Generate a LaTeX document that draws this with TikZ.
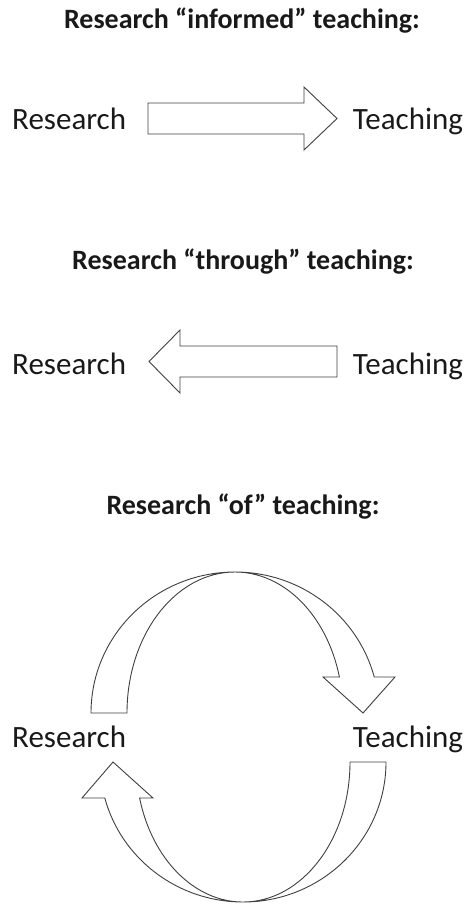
\documentclass[tikz,border=0pt]{standalone}
\usepackage{fontspec}
\setmainfont{Carlito}
\begin{document}
\begin{tikzpicture}[x=1pt,y=-1pt,
  title/.style={font=\fontsize{28}{32}\selectfont\bfseries, anchor=base, inner sep=0pt, text=black!90},
  lbl/.style={font=\fontsize{31}{37}\selectfont, anchor=base west, inner sep=0pt, text=black!90},
  lblr/.style={lbl, anchor=base},
  blockarrow/.style={draw=black!75, line width=0.9pt, fill=white, line join=miter}]
\useasboundingbox (0,0) rectangle (472,904);
% titles
\node[title] (t1) at (242,29) {Research “informed” teaching:};
\node[title] (t2) at (243,269) {Research “through” teaching:};
\node[title] (t3) at (243,514) {Research “of” teaching:};
% row labels
\node[lbl] (r1) at (12,130) {Research};
\node[lblr] (e1) at (408,130) {Teaching};
\node[lbl] (r2) at (12,374) {Research};
\node[lblr] (e2) at (408,374) {Teaching};
\node[lbl] (r3) at (12,747) {Research};
\node[lblr] (e3) at (408,747) {Teaching};
% straight arrows
\draw[blockarrow] (148,103) -- (304,103) -- (304,87) -- (337,118.5) -- (304,150) -- (304,134) -- (148,134) -- cycle;
\draw[blockarrow] (337,346) -- (180,346) -- (180,330) -- (149,361.5) -- (180,393) -- (180,377) -- (337,377) -- cycle;
% curved arrow (top)
\draw[blockarrow] (91,713) arc[start angle=180, end angle=270, x radius=144, y radius=141]
  arc[start angle=270, end angle=345.2, x radius=144, y radius=141]
  -- (395,677) -- (363,713) -- (323,677)
  -- ({235+108*cos(345.2)},677)
  arc[start angle=345.2, end angle=270, x radius=108, y radius=141]
  arc[start angle=270, end angle=180, x radius=108, y radius=141] -- cycle;
% curved arrow (bottom)
\draw[blockarrow] (386,762) arc[start angle=0, end angle=90, x radius=143, y radius=140]
  arc[start angle=90, end angle=165.1, x radius=143, y radius=140]
  -- (82,798) -- (113,762) -- (153,798)
  -- ({243+107*cos(165.1)},798)
  arc[start angle=165.1, end angle=90, x radius=107, y radius=140]
  arc[start angle=90, end angle=0, x radius=107, y radius=140] -- cycle;
\end{tikzpicture}
\end{document}
